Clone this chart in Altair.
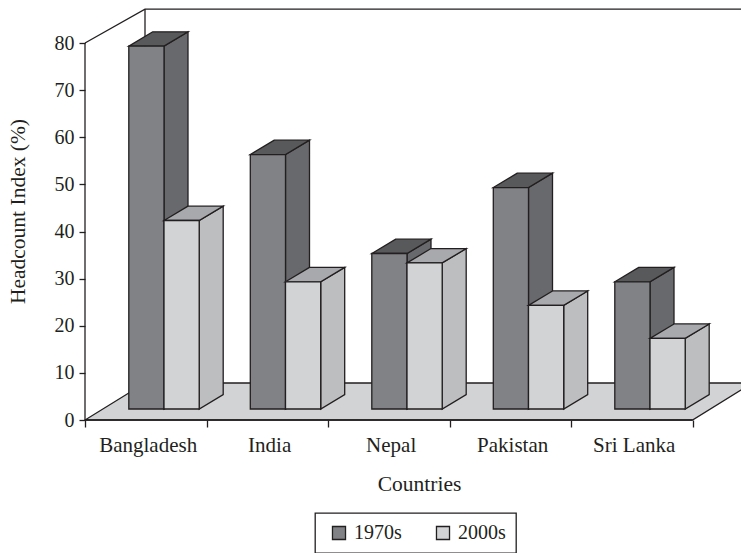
import altair as alt
import pandas as pd

countries = ["Bangladesh", "India", "Nepal", "Pakistan", "Sri Lanka"]
values_1970s = [77, 54, 33, 47, 27]
values_2000s = [40, 27, 31, 22, 15]
y_ticks = [0, 10, 20, 30, 40, 50, 60, 70, 80]

FONT = "Liberation Serif"
INK = "#231f20"
SW = 1.3
XMAX = 656 / 121.5
YMAX = 412 / 4.7125
XS = alt.Scale(domain=[0, XMAX], nice=False, zero=False)
YS = alt.Scale(domain=[0, YMAX], nice=False, zero=False)

# depth of the box and of the bars, in axis units
WALL_DX, WALL_DY = 60 / 121.5, 7.85
WALL_TOP = 87.2
BAR_DX, BAR_DY = 24 / 121.5, 3.05
BASE = 2.33
BAR_W = 35.2 / 121.5
BAR_START = 43.8 / 121.5


def faces(vals, slot):
    side, top, front = [], [], []
    for i, v in enumerate(vals):
        x0 = i + BAR_START + slot * BAR_W
        x1 = x0 + BAR_W
        t = BASE + v
        side += [dict(c=i, x=x1, y=t, y2=BASE),
                 dict(c=i, x=x1 + BAR_DX, y=t + BAR_DY, y2=BASE + BAR_DY)]
        top += [dict(c=i, y=t, x=x0, x2=x1),
                dict(c=i, y=t + BAR_DY, x=x0 + BAR_DX, x2=x1 + BAR_DX)]
        front.append(dict(c=i, x=x0, x2=x1, y=t, y2=BASE, s="1970s" if slot == 0 else "2000s"))
    return pd.DataFrame(side), pd.DataFrame(top), pd.DataFrame(front)


def bar_layers(vals, slot, c_side, c_top):
    side, top, front = faces(vals, slot)
    return [
        alt.Chart(side).mark_area(color=c_side, stroke=INK, strokeWidth=SW, orient="vertical").encode(
            x=alt.X("x:Q", scale=XS, axis=None), y=alt.Y("y:Q", scale=YS, axis=None), y2="y2:Q", detail="c:N"),
        alt.Chart(top).mark_area(color=c_top, stroke=INK, strokeWidth=SW, orient="horizontal").encode(
            y=alt.Y("y:Q", scale=YS, axis=None), x=alt.X("x:Q", scale=XS, axis=None), x2="x2:Q", detail="c:N"),
        alt.Chart(front).mark_rect(stroke=INK, strokeWidth=SW).encode(
            x=alt.X("x:Q", scale=XS, axis=None), x2="x2:Q",
            y=alt.Y("y:Q", scale=YS, axis=None), y2="y2:Q",
            color=alt.Color("s:N",
                            scale=alt.Scale(domain=["1970s", "2000s"], range=["#808285", "#d1d3d4"]),
                            legend=alt.Legend(title=None, orient="none", legendX=230, legendY=505,
                                              direction="horizontal", symbolType="square", symbolSize=170,
                                              symbolStrokeColor=INK, symbolStrokeWidth=SW, symbolOpacity=1,
                                              labelFont=FONT, labelFontSize=20, labelColor=INK,
                                              labelOffset=5, columnPadding=27, padding=10, symbolOffset=4,
                                              strokeColor=INK))),
    ]


n = len(countries)
floor = pd.DataFrame([dict(y=0, x=0, x2=n), dict(y=WALL_DY, x=WALL_DX, x2=n + WALL_DX)])
floor_l = alt.Chart(floor).mark_area(color="#d1d3d4", stroke=INK, strokeWidth=SW, orient="horizontal").encode(
    y=alt.Y("y:Q", scale=YS, axis=None), x=alt.X("x:Q", scale=XS, axis=None), x2="x2:Q")

wall = pd.DataFrame([dict(x=0, y=80), dict(x=WALL_DX, y=WALL_TOP), dict(x=n + WALL_DX, y=WALL_TOP)])
wall_l = alt.Chart(wall).mark_line(color=INK, strokeWidth=SW).encode(
    x=alt.X("x:Q", scale=XS, axis=None), y=alt.Y("y:Q", scale=YS, axis=None), order=alt.Order("x:Q"))

back = pd.DataFrame([dict(x=WALL_DX, y=WALL_DY, y2=WALL_TOP)])
back_l = alt.Chart(back).mark_rule(color=INK, strokeWidth=SW).encode(
    x=alt.X("x:Q", scale=XS, axis=None), y=alt.Y("y:Q", scale=YS, axis=None), y2="y2:Q")

yline = pd.DataFrame([dict(x=0, y=0, y2=80)])
yline_l = alt.Chart(yline).mark_rule(color=INK, strokeWidth=SW).encode(
    x=alt.X("x:Q", scale=XS, axis=None),
    y=alt.Y("y:Q", scale=YS, title="Headcount Index (%)",
            axis=alt.Axis(values=y_ticks, domain=False, grid=False, tickColor=INK, tickSize=6, tickWidth=SW,
                          labelFont=FONT, labelFontSize=20, labelColor=INK, labelPadding=5,
                          titleFont=FONT, titleFontSize=21.5, titleFontWeight="normal", titleColor=INK,
                          titleX=-56, titleY=203)),
    y2="y2:Q")

xline = pd.DataFrame([dict(x=0, x2=n, y=0)])
xticks_l = alt.Chart(xline).mark_rule(color=INK, strokeWidth=SW).encode(
    x=alt.X("x:Q", scale=XS, axis=alt.Axis(orient="bottom", values=list(range(n + 1)), labels=False, domain=False,
                                           grid=False, title=None, tickColor=INK, tickSize=7, tickWidth=SW)),
    x2="x2:Q", y=alt.Y("y:Q", scale=YS, axis=None))

names_js = "[" + ",".join(f"'{c}'" for c in countries) + "]"
xlabels_l = alt.Chart(xline).mark_rule(opacity=0).encode(
    x=alt.X("x:Q", scale=XS, title="Countries",
            axis=alt.Axis(orient="bottom", values=[i + 0.516 for i in range(n)], ticks=False, domain=False, grid=False,
                          labelExpr=f"{names_js}[floor(datum.value)]",
                          labelFont=FONT, labelFontSize=21, labelColor=INK, labelPadding=14,
                          titleFont=FONT, titleFontSize=21.5, titleFontWeight="normal", titleColor=INK,
                          titleX=334, titleY=53)),
    y=alt.Y("y:Q", scale=YS, axis=None))

layers = [floor_l, wall_l, back_l, yline_l, xticks_l, xlabels_l]
layers += bar_layers(values_1970s, 0, "#68696c", "#58595b")
layers += bar_layers(values_2000s, 1, "#bcbec0", "#a7a9ac")

chart = alt.layer(*layers).resolve_axis(x="independent", y="independent").properties(
    width=656, height=412,
    padding={"left": 77, "top": 0, "right": 0, "bottom": 133},
    autosize=alt.AutoSizeParams(type="none"),
    background="white",
).configure_view(stroke=None).configure_legend(strokeWidth=SW)

chart.save("out.html", embed_options={"renderer": "svg", "actions": False})
